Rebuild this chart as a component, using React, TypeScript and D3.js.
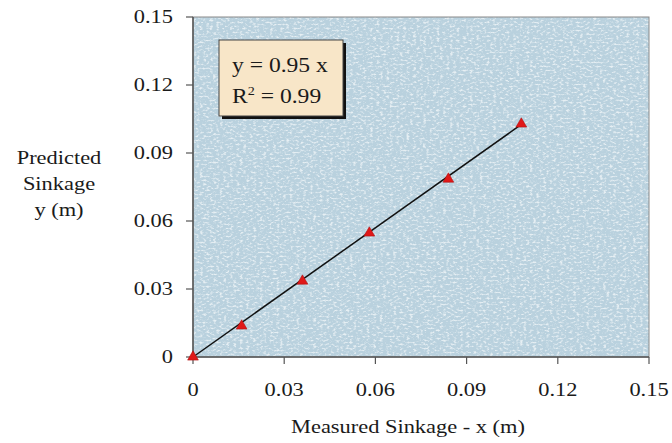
import React from "react";
import * as d3 from "d3";

const measured = [0, 0.016, 0.036, 0.058, 0.084, 0.108];
const predicted = [0, 0.0137, 0.0335, 0.0547, 0.0785, 0.1028];
const xTicks = [0, 0.03, 0.06, 0.09, 0.12, 0.15];
const yTicks = [0, 0.03, 0.06, 0.09, 0.12, 0.15];
const tickLabels = ["0", "0.03", "0.06", "0.09", "0.12", "0.15"];
const slope = 0.95;
const eqText = "y = 0.95 x";
const r2Text = "0.99";
const xTitle = "Measured Sinkage - x (m)";
const yTitle = ["Predicted", "Sinkage", "y (m)"];

const W = 672, H = 443;
const L = 193, R = 649, T = 17, B = 357;
const SX = 1.18;
const FONT = "Liberation Serif, Times New Roman, serif";

export default function App() {
  const x = d3.scaleLinear().domain([0, 0.15]).range([L, R]);
  const y = d3.scaleLinear().domain([0, 0.15]).range([B, T]);
  const lastX = d3.max(measured) as number;
  const line = d3.line<number>().x((d) => x(d)).y((d) => y(slope * d));
  const tri = d3.symbol().type(d3.symbolTriangle).size(50)() as string;

  const txt = (
    s: React.ReactNode,
    px: number,
    py: number,
    size: number,
    anchor: "start" | "middle" | "end",
    key?: string | number
  ) => (
    <text
      key={key}
      transform={`translate(${px},${py}) scale(${SX},1)`}
      fontSize={size}
      fontFamily={FONT}
      textAnchor={anchor}
      fill="#1a1a1a"
    >
      {s}
    </text>
  );

  return (
    <svg
      width={W}
      height={H}
      style={{ position: "absolute", left: 0, top: 0, background: "#fff" }}
    >
      <defs>
        <filter id="tex" x={L} y={T} width={R - L} height={B - T} filterUnits="userSpaceOnUse">
          <feTurbulence type="fractalNoise" baseFrequency="0.3 0.5" numOctaves={2} seed={11} result="n" />
          <feColorMatrix
            in="n"
            type="matrix"
            values="0 0 0 0 1  0 0 0 0 1  0 0 0 0 1  3.5 0 0 0 -1.7"
          />
          <feGaussianBlur stdDeviation={0.35} />
        </filter>
      </defs>
      <rect x={L} y={T} width={R - L} height={B - T} fill="#b9d1de" />
      <rect x={L} y={T} width={R - L} height={B - T} fill="#fff" filter="url(#tex)" opacity={0.65} />
      <rect x={L} y={T} width={R - L} height={B - T} fill="none" stroke="#8a8a8a" strokeWidth={1} />
      <line x1={L} x2={L} y1={T} y2={B} stroke="#555" strokeWidth={1.5} />
      <line x1={L} x2={R} y1={B} y2={B} stroke="#555" strokeWidth={1.5} />

      {yTicks.map((t, i) => (
        <g key={"y" + i}>
          <line x1={L - 7} x2={L} y1={y(t)} y2={y(t)} stroke="#555" strokeWidth={1.2} />
          {txt(tickLabels[i], 173, y(t) + 6, 19, "end")}
        </g>
      ))}
      {xTicks.map((t, i) => (
        <g key={"x" + i}>
          <line x1={x(t)} x2={x(t)} y1={B} y2={B + 7} stroke="#555" strokeWidth={1.2} />
          {txt(tickLabels[i], x(t), 396, 19, "middle")}
        </g>
      ))}

      {txt(xTitle, 408, 433, 19, "middle")}
      {yTitle.map((s, i) => txt(s, 59, 164 + i * 26, 19, "middle", "t" + i))}

      <path d={line([0, lastX]) as string} fill="none" stroke="#111" strokeWidth={1.5} />
      {measured.map((m, i) => (
        <path
          key={"p" + i}
          d={tri}
          transform={`translate(${x(m)},${y(predicted[i])})`}
          fill="#e01818"
          stroke="#b01010"
          strokeWidth={0.6}
        />
      ))}

      <rect x={222} y={43} width={124} height={76} fill="#111" />
      <rect x={219} y={40} width={124} height={76} fill="#f8e6c8" stroke="#444" strokeWidth={1} />
      {txt(eqText, 232, 72, 20, "start")}
      <text
        transform={`translate(232,103) scale(${SX},1)`}
        fontSize={20}
        fontFamily={FONT}
        fill="#1a1a1a"
      >
        R<tspan dy={-8} fontSize={12}>2</tspan>
        <tspan dy={8}> = {r2Text}</tspan>
      </text>
    </svg>
  );
}
